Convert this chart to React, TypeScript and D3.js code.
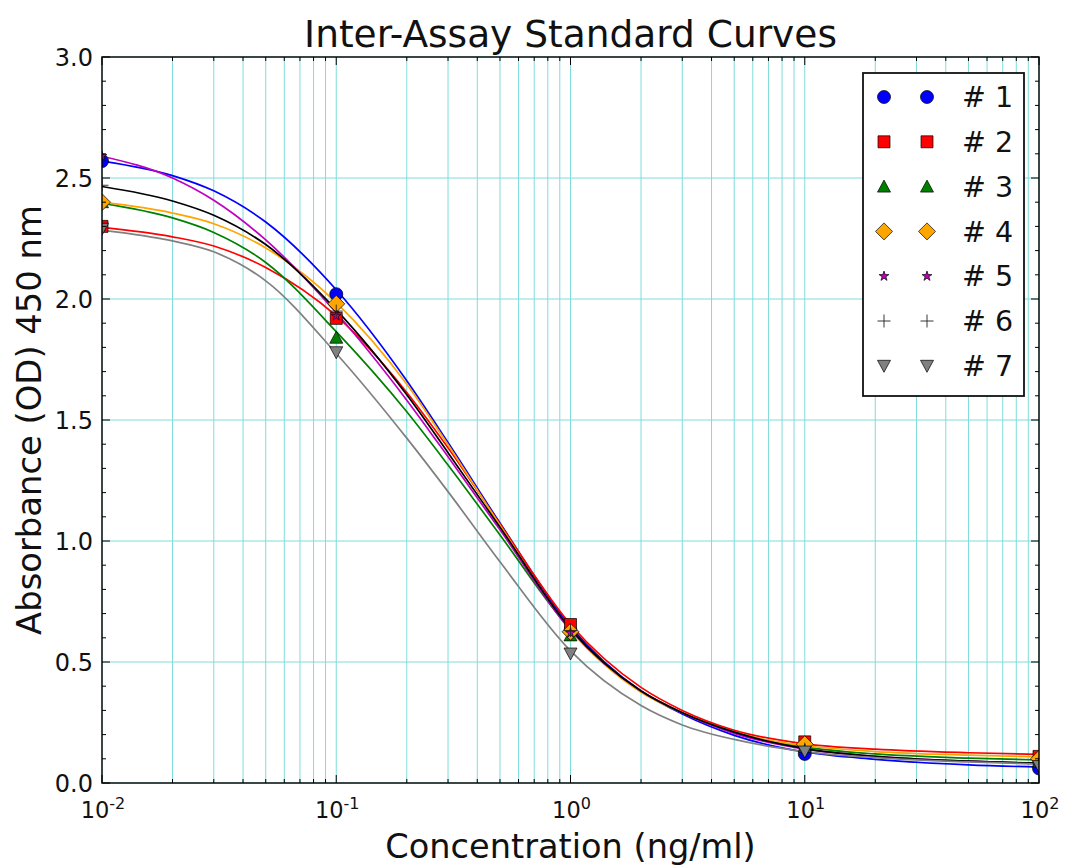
import React from 'react';
import * as d3 from 'd3';

// ---------- data ----------
const sampleConc = [0.01, 0.1, 1, 10, 100];
const seriesNames = ['# 1', '# 2', '# 3', '# 4', '# 5', '# 6', '# 7'];
const pts1 = [2.57, 2.02, 0.63, 0.12, 0.06];
const pts2 = [2.30, 1.92, 0.655, 0.17, 0.11];
const pts3 = [2.40, 1.84, 0.61, 0.15, 0.09];
const pts4 = [2.40, 1.98, 0.625, 0.16, 0.10];
const pts5 = [2.59, 1.93, 0.62, 0.14, 0.08];
const pts6 = [2.47, 1.95, 0.63, 0.14, 0.08];
const pts7 = [2.29, 1.78, 0.535, 0.13, 0.07];

// fitted curves
const fitConc = [0.01, 0.02, 0.03, 0.05, 0.1, 0.2, 0.3, 0.5, 1, 2, 3, 5, 10, 20, 50, 100];
const fit1 = [2.57, 2.51, 2.447, 2.318, 2.038, 1.662, 1.407, 1.074, 0.647, 0.38, 0.285, 0.197, 0.128, 0.098, 0.075, 0.066];
const fit2 = [2.296, 2.257, 2.219, 2.13, 1.93, 1.614, 1.385, 1.07, 0.655, 0.395, 0.30, 0.218, 0.162, 0.14, 0.125, 0.118];
const fit3 = [2.395, 2.335, 2.275, 2.151, 1.865, 1.534, 1.314, 1.025, 0.634, 0.38, 0.29, 0.21, 0.148, 0.12, 0.103, 0.095];
const fit4 = [2.40, 2.355, 2.311, 2.211, 1.985, 1.648, 1.398, 1.065, 0.632, 0.375, 0.29, 0.208, 0.155, 0.13, 0.115, 0.108];
const fit5 = [2.59, 2.50, 2.408, 2.244, 1.943, 1.582, 1.348, 1.046, 0.631, 0.38, 0.29, 0.205, 0.14, 0.11, 0.09, 0.08];
const fit6 = [2.465, 2.405, 2.346, 2.225, 1.955, 1.604, 1.365, 1.057, 0.637, 0.38, 0.29, 0.21, 0.142, 0.11, 0.09, 0.082];
const fit7 = [2.285, 2.24, 2.195, 2.075, 1.775, 1.425, 1.204, 0.914, 0.546, 0.32, 0.24, 0.18, 0.13, 0.105, 0.087, 0.078];

const yTicks = [0, 0.5, 1.0, 1.5, 2.0, 2.5, 3.0];
const xTicks = [0.01, 0.1, 1, 10, 100];
const xTickExp = ['-2', '-1', '0', '1', '2'];

const title = 'Inter-Assay Standard Curves';
const xLabel = 'Concentration (ng/ml)';
const yLabel = 'Absorbance (OD) 450 nm';

// ---------- styles ----------
const colors = ['#0000ff', '#ff0000', '#008000', '#ffa500', '#bf00bf', '#000000', '#808080'];
const markers = ['circle', 'square', 'triUp', 'diamond', 'star', 'plus', 'triDown'];

const W = 1065, H = 866;
const L = 102, R = 1039, T = 57, B = 783;
const FONT = 'DejaVu Sans, sans-serif';
const GRID = '#7fdcdc';

const markerPath = (m: string): string => {
  switch (m) {
    case 'circle': return d3.symbol(d3.symbolCircle, Math.PI * 6.5 * 6.5)() as string;
    case 'square': return 'M-6,-6H6V6H-6Z';
    case 'triUp': return 'M0,-6.5L6.5,5.5L-6.5,5.5Z';
    case 'triDown': return 'M0,6.5L6.5,-5.5L-6.5,-5.5Z';
    case 'diamond': return 'M0,-8.5L8.5,0L0,8.5L-8.5,0Z';
    case 'star': return d3.symbol(d3.symbolStar, 30)() as string;
    case 'plus': return 'M-6.5,0H6.5M0,-6.5V6.5';
    default: return '';
  }
};

const Marker = ({ m, color, x, y }: { m: string; color: string; x: number; y: number }) => {
  if (m === 'plus') {
    return <path d={markerPath(m)} transform={`translate(${x},${y})`} fill="none" stroke="#222" strokeWidth={0.9} />;
  }
  return <path d={markerPath(m)} transform={`translate(${x},${y})`} fill={color} stroke="#000" strokeWidth={0.7} />;
};

export default function App() {
  const x = d3.scaleLog().domain([0.01, 100]).range([L, R]);
  const y = d3.scaleLinear().domain([0, 3]).range([B, T]);

  const pts = [pts1, pts2, pts3, pts4, pts5, pts6, pts7];
  const fits = [fit1, fit2, fit3, fit4, fit5, fit6, fit7];

  const line = d3.line<[number, number]>()
    .x(d => x(d[0]))
    .y(d => y(d[1]))
    .curve(d3.curveMonotoneX);

  const minorX: number[] = [];
  [0.01, 0.1, 1, 10].forEach(d => { for (let k = 2; k <= 9; k++) minorX.push(d * k); });
  const minorY: number[] = d3.range(0, 31).map(i => i / 10).filter(v => Math.abs(v * 2 - Math.round(v * 2)) > 1e-6);

  const legX = 863, legY = 73, legW = 161, legH = 323;
  const rowY0 = 97, rowStep = 44.8;

  return (
    <svg width={W} height={H} style={{ position: 'absolute', left: 0, top: 0, background: '#fff' }}>
      <defs>
        <clipPath id="plotClip">
          <rect x={L} y={T} width={R - L} height={B - T} />
        </clipPath>
      </defs>
      <rect x={0} y={0} width={W} height={H} fill="#fff" />
      {/* grid */}
      <g>
        {[...xTicks, ...minorX].map((v, i) => (
          <line key={'gx' + i} x1={x(v)} x2={x(v)} y1={T} y2={B} stroke={GRID} strokeWidth={1} />
        ))}
        {yTicks.map((v, i) => (
          <line key={'gy' + i} x1={L} x2={R} y1={y(v)} y2={y(v)} stroke={GRID} strokeWidth={1} />
        ))}
      </g>
      {/* curves */}
      <g clipPath="url(#plotClip)">
        {fits.map((f, i) => (
          <path key={'c' + i} d={line(fitConc.map((c, j) => [c, f[j]] as [number, number])) as string}
            fill="none" stroke={colors[i]} strokeWidth={1.7} />
        ))}
      </g>
      {/* markers */}
      <g clipPath="url(#plotClip)">
        {pts.map((p, i) => p.map((v, j) => (
          <Marker key={`m${i}-${j}`} m={markers[i]} color={colors[i]} x={x(sampleConc[j])} y={y(v)} />
        )))}
      </g>
      {/* ticks */}
      <g stroke="#000" strokeWidth={1}>
        {xTicks.map((v, i) => (
          <g key={'tx' + i}>
            <line x1={x(v)} x2={x(v)} y1={B} y2={B - 8} />
            <line x1={x(v)} x2={x(v)} y1={T} y2={T + 8} />
          </g>
        ))}
        {minorX.map((v, i) => (
          <g key={'tmx' + i}>
            <line x1={x(v)} x2={x(v)} y1={B} y2={B - 4} />
            <line x1={x(v)} x2={x(v)} y1={T} y2={T + 4} />
          </g>
        ))}
        {yTicks.map((v, i) => (
          <g key={'ty' + i}>
            <line x1={L} x2={L + 8} y1={y(v)} y2={y(v)} />
            <line x1={R} x2={R - 8} y1={y(v)} y2={y(v)} />
          </g>
        ))}
        {minorY.map((v, i) => (
          <g key={'tmy' + i}>
            <line x1={L} x2={L + 4} y1={y(v)} y2={y(v)} />
            <line x1={R} x2={R - 4} y1={y(v)} y2={y(v)} />
          </g>
        ))}
      </g>
      {/* frame */}
      <rect x={L} y={T} width={R - L} height={B - T} fill="none" stroke="#000" strokeWidth={1.4} />
      {/* tick labels */}
      <g fontFamily={FONT} fill="#111">
        {yTicks.map((v, i) => (
          <text key={'ly' + i} x={L - 9} y={y(v)} dy="0.36em" textAnchor="end" fontSize={24}>{v.toFixed(1)}</text>
        ))}
        {xTicks.map((v, i) => (
          <text key={'lx' + i} x={x(v) + 1} y={818} textAnchor="middle" fontSize={22.5}>
            10<tspan fontSize={16} dy={-9}>{xTickExp[i]}</tspan>
          </text>
        ))}
      </g>
      {/* titles */}
      <text x={(L + R) / 2} y={47} textAnchor="middle" fontFamily={FONT} fontSize={37.5} fill="#111">{title}</text>
      <text x={(L + R) / 2} y={858} textAnchor="middle" fontFamily={FONT} fontSize={33.6} fill="#111">{xLabel}</text>
      <text transform={`translate(41,${(T + B) / 2}) rotate(-90)`} textAnchor="middle" fontFamily={FONT} fontSize={33.8} fill="#111">{yLabel}</text>
      {/* legend */}
      <g>
        <rect x={legX} y={legY} width={legW} height={legH} fill="#fff" stroke="#111" strokeWidth={1.8} />
        {seriesNames.map((n, i) => {
          const ry = rowY0 + i * rowStep;
          return (
            <g key={'lg' + i}>
              <Marker m={markers[i]} color={colors[i]} x={884} y={ry} />
              <Marker m={markers[i]} color={colors[i]} x={927} y={ry} />
              <text x={962} y={ry} dy="0.36em" fontFamily={FONT} fontSize={28.5} fill="#111">{n}</text>
            </g>
          );
        })}
      </g>
    </svg>
  );
}
